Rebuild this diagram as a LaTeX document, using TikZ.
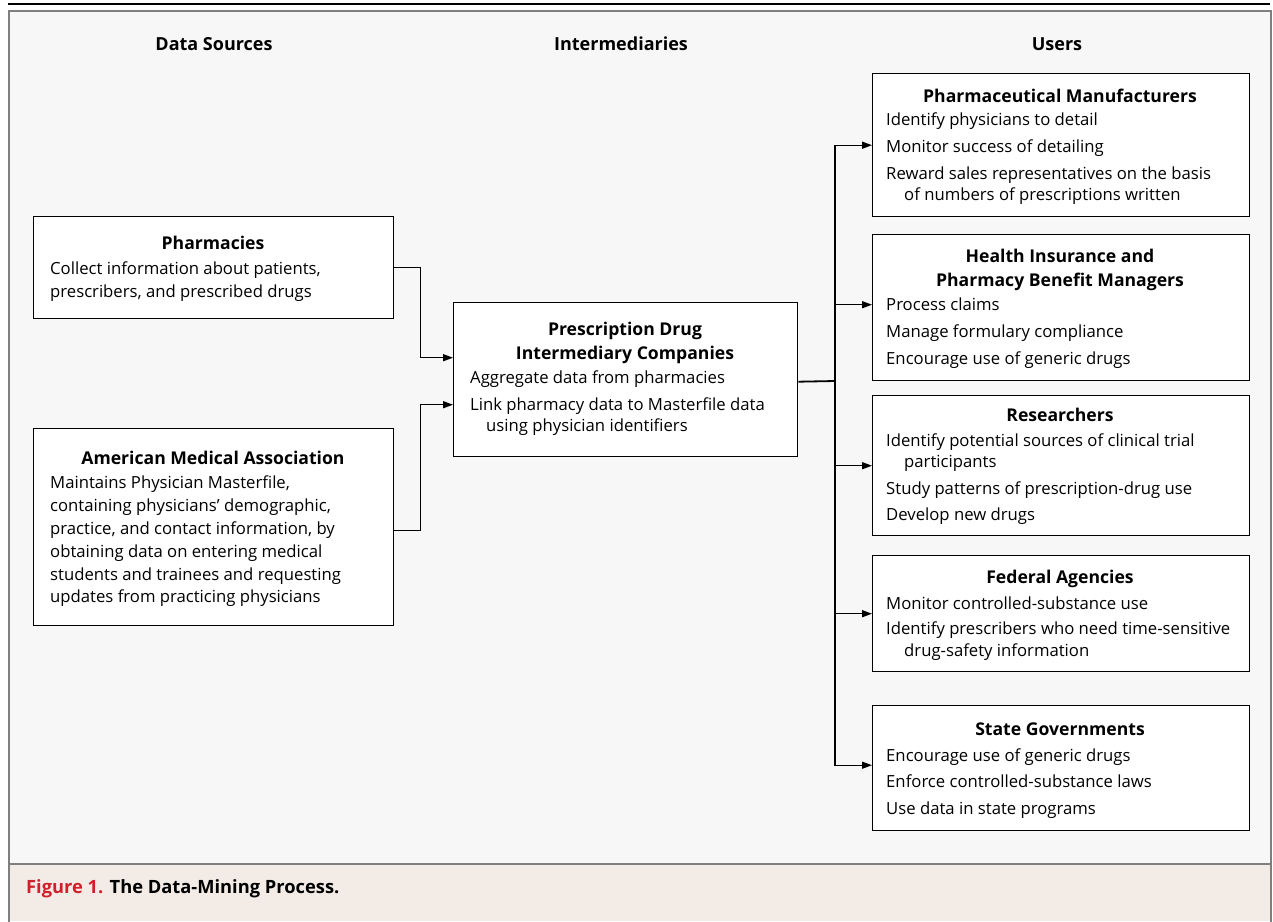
\documentclass[tikz,border=0pt]{standalone}
\usepackage{fontspec}
\setmainfont{Open Sans}
\usetikzlibrary{arrows.meta}
\definecolor{framegray}{HTML}{7F7F7F}
\definecolor{panel}{HTML}{F7F7F7}
\definecolor{capbg}{HTML}{F2EBE6}
\definecolor{figred}{HTML}{D21F2C}
\begin{document}
\begin{tikzpicture}[x=1pt,y=-1pt,
  box/.style={draw=black, line width=1.4pt, fill=white, anchor=north west, inner sep=0pt},
  colhead/.style={font=\bfseries\fontsize{18}{20}\selectfont, anchor=base, inner sep=0pt},
  hd/.style={font=\bfseries\fontsize{17.6}{20}\selectfont, anchor=base, inner sep=0pt},
  tx/.style={font=\fontsize{16.7}{20}\selectfont, anchor=base west, inner sep=0pt},
  conn/.style={line width=1.4pt, -{Triangle[length=10pt,width=7pt]}},
  bus/.style={line width=1.8pt}
]
\useasboundingbox (0,0) rectangle (1273,921);
% frame
\fill[panel] (9,11) rectangle (1271,864);
\fill[capbg] (9,864) rectangle (1271,921);
\draw[framegray, line width=2pt] (9,922) -- (9,11) -- (1271,11) -- (1271,922);
\draw[framegray, line width=2pt] (9,864) -- (1271,864);
\draw[black, line width=1.6pt] (8,4) -- (1270,4);

% column headers
\node[colhead] (h1) at (214,50) {Data Sources};
\node[colhead] (h2) at (621,50) {Intermediaries};
\node[colhead] (h3) at (1057,50) {Users};

% boxes
\node[box, minimum width=360pt, minimum height=102pt] (pharm) at (33,216) {};
\node[box, minimum width=360pt, minimum height=197pt] (ama) at (33,428) {};
\node[box, minimum width=344pt, minimum height=154pt] (inter) at (453,302) {};
\node[box, minimum width=377pt, minimum height=143pt] (pm) at (872,73) {};
\node[box, minimum width=377pt, minimum height=146pt] (hi) at (872,234) {};
\node[box, minimum width=377pt, minimum height=140pt] (res) at (872,395) {};
\node[box, minimum width=377pt, minimum height=116pt] (fed) at (872,555) {};
\node[box, minimum width=377pt, minimum height=125pt] (st) at (872,705) {};

% pharmacies
\node[hd] (pharmH) at (213,249) {Pharmacies};
\node[tx] (pharm1) at (50,274) {Collect information about patients,};
\node[tx] (pharm2) at (50,297) {prescribers, and prescribed drugs};

% AMA
\node[hd] (amaH) at (213,464) {American Medical Association};
\node[tx] (ama1) at (50,488) {Maintains Physician Masterfile,};
\node[tx] (ama2) at (50,511) {containing physicians’ demographic,};
\node[tx] (ama3) at (50,534) {practice, and contact information, by};
\node[tx] (ama4) at (50,557) {obtaining data on entering medical};
\node[tx] (ama5) at (50,580) {students and trainees and requesting};
\node[tx] (ama6) at (50,602) {updates from practicing physicians};

% intermediary
\node[hd] (interH1) at (625,335) {Prescription Drug};
\node[hd] (interH2) at (625,359) {Intermediary Companies};
\node[tx] (inter1) at (470,383) {Aggregate data from pharmacies};
\node[tx] (inter2) at (470,410) {Link pharmacy data to Masterfile data};
\node[tx] (inter3) at (486,431) {using physician identifiers};

% pharmaceutical manufacturers
\node[hd] (pmH) at (1060,102) {Pharmaceutical Manufacturers};
\node[tx] (pm1) at (886,125) {Identify physicians to detail};
\node[tx] (pm2) at (886,152) {Monitor success of detailing};
\node[tx] (pm3) at (886,179) {Reward sales representatives on the basis};
\node[tx] (pm4) at (904,200) {of numbers of prescriptions written};

% health insurance
\node[hd] (hiH1) at (1060,262) {Health Insurance and};
\node[hd] (hiH2) at (1060,286) {Pharmacy Benefit Managers};
\node[tx] (hi1) at (886,310) {Process claims};
\node[tx] (hi2) at (886,337) {Manage formulary compliance};
\node[tx] (hi3) at (886,364) {Encourage use of generic drugs};

% researchers
\node[hd] (resH) at (1060,421) {Researchers};
\node[tx] (res1) at (886,446) {Identify potential sources of clinical trial};
\node[tx] (res2) at (904,467) {participants};
\node[tx] (res3) at (886,494) {Study patterns of prescription-drug use};
\node[tx] (res4) at (886,520) {Develop new drugs};

% federal
\node[hd] (fedH) at (1060,583) {Federal Agencies};
\node[tx] (fed1) at (886,609) {Monitor controlled-substance use};
\node[tx] (fed2) at (886,634) {Identify prescribers who need time-sensitive};
\node[tx] (fed3) at (904,656) {drug-safety information};

% state
\node[hd] (stH) at (1060,735) {State Governments};
\node[tx] (st1) at (886,761) {Encourage use of generic drugs};
\node[tx] (st2) at (886,787) {Enforce controlled-substance laws};
\node[tx] (st3) at (886,814) {Use data in state programs};

% connectors
\draw[conn] (pharm.east) -- ++(26,0) |- ([yshift=22pt]inter.west);
\draw[conn] ([yshift=-3pt]ama.east) -- ++(26,0) |- ([yshift=-25pt]inter.west);
\coordinate (busc) at (835,381);
\draw[bus] ([yshift=-2pt]inter.east) -- (busc);
\draw[conn] (busc) |- (pm.west);
\draw[conn] (busc) |- ([yshift=3pt]hi.west);
\draw[conn] (busc) |- (res.west);
\draw[conn] (busc) |- (fed.west);
\draw[conn] (busc) |- ([yshift=3pt]st.west);

% caption
\node[anchor=base west, inner sep=0pt, font=\bfseries\fontsize{18.3}{20}\selectfont] (cap) at (26,893) {\textcolor{figred}{Figure 1.} The Data-Mining Process.};
\end{tikzpicture}
\end{document}
